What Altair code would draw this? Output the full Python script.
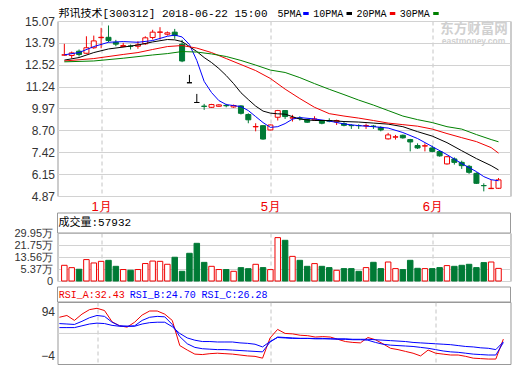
import altair as alt
import pandas as pd

TITLE = "邦讯技术[300312] 2018-06-22 15:00"
VOL_HEADER = "成交量:57932"
RSI_HEADERS = ["RSI_A:32.43", "RSI_B:24.70", "RSI_C:26.28"]
MA_NAMES = ["5PMA", "10PMA", "20PMA", "30PMA"]

month_idx = [5, 28, 50]
month_lbl = ["1月", "5月", "6月"]
price_ticks = [4.87, 6.15, 7.42, 8.70, 9.97, 11.24, 12.52, 13.79, 15.07]
vol_ticks = [-2.82, 5.37, 13.56, 21.75, 29.95]
rsi_ticks = [-4, 45, 94]

opens = [13.08, 13.06, 13.31, 13.19, 13.51, 14.10, 14.12, 13.83, 13.58, 13.61,
         13.60, 13.74, 14.11, 14.41, 14.30, 14.42, 13.72, 11.47, 10.32, 10.11,
         10.04, 10.10, 10.15, 10.06, 10.12, 9.62, 8.90, 8.97, 8.72, 9.46,
         9.85, 9.41, 9.41, 9.32, 9.31, 9.25, 9.27, 9.19, 9.09, 8.98,
         8.98, 8.96, 8.94, 8.87, 8.20, 8.30, 8.41, 8.16, 7.81, 7.78,
         7.67, 7.46, 6.74, 7.03, 6.83, 6.60, 6.19, 5.48, 5.30, 5.32]
highs = [13.74, 13.29, 13.41, 14.18, 14.22, 14.67, 14.81, 13.97, 13.80, 13.70,
         13.89, 14.18, 14.56, 14.71, 14.46, 14.61, 13.97, 11.93, 10.82, 10.24,
         10.24, 10.22, 10.24, 10.20, 10.16, 9.69, 9.11, 8.99, 9.03, 9.89,
         9.88, 9.60, 9.52, 9.36, 9.52, 9.29, 9.40, 9.32, 9.17, 9.05,
         9.05, 9.09, 9.01, 8.93, 8.55, 8.43, 8.45, 8.20, 7.94, 7.94,
         7.81, 7.47, 7.21, 7.12, 6.93, 6.68, 6.25, 5.61, 5.81, 5.92]
lows = [13.06, 12.90, 13.00, 13.16, 13.45, 13.48, 13.83, 13.60, 13.54, 13.41,
        13.45, 13.68, 13.99, 13.99, 14.22, 14.03, 12.67, 11.47, 10.32, 9.89,
        10.01, 10.06, 10.04, 10.01, 9.62, 9.11, 8.64, 8.15, 8.70, 9.27,
        9.36, 9.21, 9.27, 9.13, 9.25, 9.05, 9.17, 9.01, 8.93, 8.78,
        8.78, 8.78, 8.78, 8.64, 8.16, 8.16, 8.21, 7.47, 7.61, 7.47,
        7.42, 7.16, 6.70, 6.70, 6.45, 6.16, 5.57, 5.14, 5.28, 5.28]
closes = [13.10, 13.21, 13.12, 13.51, 13.91, 14.12, 13.93, 13.72, 13.64, 13.60,
          13.68, 14.09, 14.42, 14.43, 14.38, 14.22, 12.74, 11.47, 10.32, 10.09,
          10.20, 10.18, 10.13, 10.14, 9.69, 9.31, 8.92, 8.19, 9.01, 9.85,
          9.50, 9.43, 9.40, 9.17, 9.36, 9.11, 9.23, 9.27, 8.99, 8.97,
          8.97, 8.98, 8.93, 8.72, 8.43, 8.32, 8.26, 8.02, 7.67, 7.80,
          7.47, 7.21, 7.16, 6.83, 6.64, 6.25, 5.61, 5.47, 5.32, 5.81]
volumes = [7.9, 6.3, 5.2, 11.8, 9.5, 10.6, 11.3, 7.2, 5.0, 4.5,
           5.0, 9.1, 10.8, 10.6, 8.6, 13.4, 3.8, 16.1, 22.9, 9.9,
           7.2, 5.0, 5.0, 3.8, 6.3, 5.6, 8.58, 6.33, 4.96, 26.8,
           24.96, 14.0, 11.3, 7.2, 9.06, 7.2, 6.33, 4.48, 5.64, 5.64,
           3.8, 6.33, 9.94, 5.64, 10.15, 5.64, 4.96, 11.3, 5.85, 5.64,
           5.64, 6.33, 7.69, 7.2, 7.9, 8.58, 6.33, 9.74, 10.15, 5.79]

ma5_i = [0, 2, 4, 6, 8, 10, 12, 14, 15, 16, 17, 18, 19, 20, 21, 22, 23, 24, 25, 26,
         27, 28, 29, 30, 31, 32, 34, 36, 38, 40, 42, 44, 46, 48, 50, 52, 54, 56, 57, 58, 59]
ma5_v = [13.10, 13.23, 13.58, 13.83, 13.87, 13.83, 13.93, 14.18, 14.25, 14.14, 13.70, 12.77,
         11.55, 10.90, 10.43, 10.20, 10.14, 10.08, 9.85, 9.50, 9.15, 8.87, 8.91, 9.09, 9.35,
         9.44, 9.36, 9.24, 9.07, 8.97, 8.91, 8.83, 8.57, 8.22, 7.75, 7.28, 6.76, 6.29, 6.00,
         5.82, 5.76]
ma10_i = [0, 2, 4, 6, 8, 10, 12, 14, 15, 16, 17, 18, 19, 20, 21, 22, 23, 24, 25, 26, 27,
          28, 29, 30, 32, 34, 36, 38, 40, 42, 44, 46, 48, 50, 52, 54, 56, 58, 59]
ma10_v = [12.79, 12.94, 13.23, 13.44, 13.55, 13.67, 13.85, 13.99, 13.97, 13.87, 13.58, 13.29,
          12.94, 12.65, 12.30, 11.89, 11.42, 10.89, 10.49, 10.11, 9.82, 9.70, 9.66, 9.64,
          9.35, 9.27, 9.27, 9.21, 9.18, 9.12, 9.06, 8.91, 8.62, 8.36, 7.98, 7.51, 7.05, 6.64,
          6.39]
ma20_i = [0, 4, 8, 10, 12, 14, 16, 18, 20, 22, 24, 26, 28, 30, 32, 34, 36, 38, 40, 42, 44,
          46, 48, 50, 52, 54, 56, 58, 59]
ma20_v = [12.74, 12.88, 13.12, 13.23, 13.41, 13.58, 13.64, 13.49, 13.23, 12.88, 12.53, 12.18,
          11.72, 11.10, 10.55, 10.04, 9.67, 9.53, 9.41, 9.27, 9.12, 9.03, 8.94, 8.77, 8.51,
          8.27, 8.04, 7.69, 7.37]
ma30_i = [0, 4, 8, 12, 14, 16, 18, 20, 22, 24, 26, 28, 30, 32, 34, 36, 38, 40, 42, 44, 46,
          48, 50, 52, 54, 56, 58, 59]
ma30_v = [12.69, 12.74, 12.90, 13.09, 13.17, 13.29, 13.26, 13.15, 13.00, 12.77, 12.50, 12.21,
          12.07, 11.77, 11.42, 11.09, 10.78, 10.46, 10.17, 9.85, 9.53, 9.32, 9.15, 8.91, 8.77,
          8.45, 8.16, 8.03]

rsi_a = [81, 85, 74, 88, 98, 101, 96, 71, 62, 59,
         70, 86, 95, 95, 88, 74, 18, 8, -1, -2,
         0, 1, 0, -1, -3, -5, -6, -10, 35, 54,
         45, 44, 41, 40, 37, 38, 37, 32, 27, 25,
         24, 36, 31, 22, 12, 9, 5, 1, -5, 8,
         1, -1, -3, -3, -6, -10, -11, -12, -12, 32.43]
rsi_b = [67, 66, 65, 72, 80, 85, 83, 70, 62, 61,
         62, 74, 81, 83, 82, 65, 38, 22, 14, 11,
         10, 9, 9, 8, 7, 6, 5, 4, 26, 37,
         36, 35, 34, 34, 33, 33, 33, 32, 32, 31,
         31, 30, 25, 21, 19, 18, 17, 16, 14, 12,
         9, 6, 4, 3, 1, -1, -2, -3, -3, 24.70]
rsi_c = [58, 58, 58, 62, 66, 68, 67, 63, 61, 61,
         61, 66, 69, 70, 70, 60, 45, 35, 30, 27,
         27, 26, 26, 26, 24, 23, 21, 15, 27, 36,
         35, 34, 34, 34, 34, 34, 33, 33, 33, 32,
         32, 32, 31, 30, 29, 28, 27, 25, 24, 23,
         22, 21, 20, 18, 16, 15, 13, 12, 9, 26.28]

RED = "#f00000"
GREEN = "#007a35"
BLUE = "#0000ff"
BLACK = "#000000"
MA_GREEN = "#008000"
GRID = "#d2d2d2"
BORDER = "#999999"
FONT = "Liberation Sans"
MONO = "Liberation Mono, Noto Sans CJK SC"

W = 453
H_MAIN, H_VOL, H_RSI = 175, 48, 62

n = len(closes)
candles = pd.DataFrame({"i": list(range(n)), "o": opens, "h": highs, "l": lows,
                        "c": closes, "v": volumes})
ma_df = pd.concat([
    pd.DataFrame({"i": ii, "v": vv, "s": name})
    for name, ii, vv in zip(MA_NAMES, [ma5_i, ma10_i, ma20_i, ma30_i],
                            [ma5_v, ma10_v, ma20_v, ma30_v])
])
rsi_df = pd.concat([
    pd.DataFrame({"i": list(range(n)), "v": vv, "s": name})
    for name, vv in zip(["A", "B", "C"], [rsi_a, rsi_b, rsi_c])
])

xscale = alt.Scale(domain=[-0.25, 59.95], nice=False, zero=False)
month_expr = " : ".join(
    [f"datum.value == {m} ? '{l}'" for m, l in zip(month_idx, month_lbl)]) + " : ''"


def X(show_labels):
    return alt.X("i:Q", scale=xscale, title=None,
                 axis=alt.Axis(values=month_idx, labelExpr=month_expr, labels=show_labels,
                               grid=True, gridDash=[4, 3], gridColor="#c4c4c4",
                               domain=False, ticks=False, labelColor="#ee0000",
                               labelFontSize=13, labelPadding=4, labelFont=FONT,
                               labelOverlap=False))


yscale_main = alt.Scale(domain=[4.87, 15.07], nice=False, zero=False)
yaxis_main = alt.Axis(values=price_ticks, format=".2f", grid=True, gridColor=GRID,
                      domain=False, ticks=False, labelPadding=3, title=None,
                      labelOverlap=False)

dir_expr = "datum.c > datum.o ? 'up' : (datum.c < datum.o ? 'down' : 'flat')"
stroke_scale = alt.Scale(domain=["up", "down", "flat"], range=[RED, GREEN, BLACK])
fill_scale = alt.Scale(domain=["up", "down", "flat"], range=["#ffffff", GREEN, BLACK])

base = alt.Chart(candles).transform_calculate(d=dir_expr)

wicks = base.mark_rule(strokeWidth=1).encode(
    x=X(True),
    y=alt.Y("l:Q", scale=yscale_main, axis=yaxis_main),
    y2="h:Q",
    stroke=alt.Stroke("d:N", scale=stroke_scale, legend=None),
)
bodies = base.mark_bar(size=5, strokeWidth=1).encode(
    x=X(True),
    y=alt.Y("o:Q", scale=yscale_main, axis=yaxis_main),
    y2="c:Q",
    fill=alt.Fill("d:N", scale=fill_scale, legend=None),
    stroke=alt.Stroke("d:N", scale=stroke_scale, legend=None),
)
ma_colors = [BLUE, BLACK, RED, MA_GREEN]
ma_layers = [
    alt.Chart(ma_df).transform_filter(alt.datum.s == name).mark_line(
        color=col, strokeWidth=1, clip=True).encode(
        x=X(True), y=alt.Y("v:Q", scale=yscale_main, axis=yaxis_main))
    for name, col in zip(MA_NAMES, ma_colors)
]

one = pd.DataFrame({"k": [0]})
HEAD_Y = -7.5
title_txt = alt.Chart(pd.DataFrame({"t": [TITLE]})).mark_text(
    align="left", baseline="middle", font=MONO, fontSize=11, color="#000").encode(
    x=alt.value(1), y=alt.value(HEAD_Y), text="t:N")

legend_layers = []
leg_text_x = [220, 255.7, 299, 342.3]
leg_bar_x = [245.7, 289, 332.3, 375.7]
for name, col, tx, bx in zip(MA_NAMES, ma_colors, leg_text_x, leg_bar_x):
    legend_layers.append(alt.Chart(pd.DataFrame({"t": [name]})).mark_text(
        align="left", baseline="middle", font=MONO, fontSize=10, color="#000").encode(
        x=alt.value(tx), y=alt.value(HEAD_Y), text="t:N"))
    legend_layers.append(alt.Chart(one).mark_rect(color=col).encode(
        x=alt.value(bx), x2=alt.value(bx + 5.5), y=alt.value(HEAD_Y - 1.5),
        y2=alt.value(HEAD_Y + 1.5)))

wm1 = alt.Chart(pd.DataFrame({"t": ["东方财富网"]})).mark_text(
    font="Noto Sans CJK SC", fontSize=13.5, fontWeight="bold", color="#d0d0d0").encode(
    x=alt.value(416.5), y=alt.value(7.5), text="t:N")
wm2 = alt.Chart(pd.DataFrame({"t": ["eastmoney.com"]})).mark_text(
    font=FONT, fontSize=8.5, fontWeight="bold", color="#d0d0d0").encode(
    x=alt.value(416), y=alt.value(20), text="t:N")

main = alt.layer(wm1, wm2, wicks, bodies, *ma_layers, title_txt, *legend_layers).properties(
    width=W, height=H_MAIN)

# volume panel
vscale = alt.Scale(domain=[vol_ticks[0], vol_ticks[-1]], nice=False, zero=False)
vaxis = alt.Axis(values=vol_ticks, grid=True, gridColor=GRID, domain=False, ticks=False,
                 labelPadding=5, title=None, labelOverlap=False, labelFontSize=11,
                 labelExpr="datum.value < 0 ? '0' : format(datum.value, '.2f') + '万'")
vdir = "datum.c > datum.o ? 'up' : 'down'"
vbars = alt.Chart(candles).transform_calculate(d=vdir).mark_bar(size=5.5, strokeWidth=1).encode(
    x=X(False),
    y=alt.Y("v:Q", scale=vscale, axis=vaxis),
    y2=alt.datum(vol_ticks[0]),
    fill=alt.Fill("d:N", scale=fill_scale, legend=None),
    stroke=alt.Stroke("d:N", scale=stroke_scale, legend=None),
)
vbox = alt.Chart(one).mark_rect(fill="transparent", stroke=BORDER, strokeWidth=1).encode(
    x=alt.value(0), x2=alt.value(W), y=alt.value(-20), y2=alt.value(0))
vhead = alt.Chart(pd.DataFrame({"t": [VOL_HEADER]})).mark_text(
    align="left", baseline="middle", font=MONO, fontSize=11, color="#000").encode(
    x=alt.value(1), y=alt.value(-10), text="t:N")
vol = alt.layer(vbars, vbox, vhead).properties(width=W, height=H_VOL)

# RSI panel
rscale = alt.Scale(domain=[-23, 115], nice=False, zero=False)
raxis = alt.Axis(values=rsi_ticks, grid=False, domain=False, ticks=False, labelPadding=3,
                 title=None, labelOverlap=False)
r45 = alt.Chart(one).mark_rule(color=GRID).encode(y=alt.datum(45))
rsi_colors = [RED, BLUE, BLUE]
rsi_layers = [
    alt.Chart(rsi_df).transform_filter(alt.datum.s == s).mark_line(
        color=col, strokeWidth=1, clip=True).encode(
        x=X(False), y=alt.Y("v:Q", scale=rscale, axis=raxis))
    for s, col in zip(["A", "B", "C"], rsi_colors)
]
rbox = alt.Chart(one).mark_rect(fill="transparent", stroke=BORDER, strokeWidth=1).encode(
    x=alt.value(0), x2=alt.value(W), y=alt.value(-15), y2=alt.value(0))
rhead_x = [1.3, 72.3, 144]
rhead = [
    alt.Chart(pd.DataFrame({"t": [t]})).mark_text(
        align="left", baseline="middle", font=MONO, fontSize=10, color=col).encode(
        x=alt.value(hx), y=alt.value(-7.5), text="t:N")
    for t, col, hx in zip(RSI_HEADERS, rsi_colors, rhead_x)
]
rsi = alt.layer(r45, *rsi_layers, rbox, *rhead).properties(width=W, height=H_RSI)

lower = alt.vconcat(vol, rsi, spacing=21, bounds="flush")
chart = alt.vconcat(main, lower, spacing=37, bounds="flush").properties(
    padding={"left": 4.5, "top": -1, "right": 0, "bottom": 0}
).configure_view(stroke=BORDER, strokeWidth=1).configure_axis(
    labelFont=FONT, labelFontSize=12, labelColor="#333333"
)

chart.save("out.html", embed_options={"renderer": "svg", "actions": False})
